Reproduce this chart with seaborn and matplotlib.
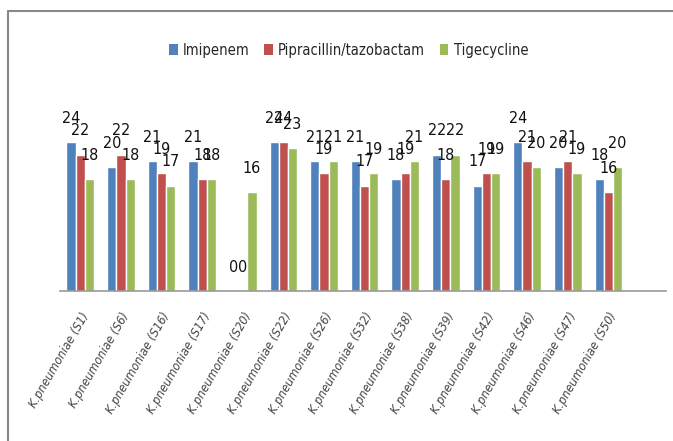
import matplotlib
matplotlib.use("Agg")
import matplotlib.pyplot as plt
import seaborn as sns
import pandas as pd
from matplotlib.lines import Line2D
from matplotlib.patches import Patch

isolates = ["S1", "S6", "S16", "S17", "S20", "S22", "S26", "S32",
            "S38", "S39", "S42", "S46", "S47", "S50"]
categories = [f"K.pneumoniae ({s})" for s in isolates]
antibiotics = ["Imipenem", "Pipracillin/tazobactam", "Tigecycline"]
imipenem = [24, 20, 21, 21, 0, 24, 21, 21, 18, 22, 17, 24, 20, 18]
piperacillin = [22, 22, 19, 18, 0, 24, 19, 17, 19, 18, 19, 21, 21, 16]
tigecycline = [18, 18, 17, 18, 16, 23, 21, 19, 21, 22, 19, 20, 19, 20]
colors = ["#4F81BD", "#C0504D", "#9BBB59"]

df = pd.DataFrame({
    "isolate": categories * 3,
    "antibiotic": sum([[a] * len(categories) for a in antibiotics], []),
    "value": imipenem + piperacillin + tigecycline,
})

sns.set_style("white")
plt.rcParams["font.family"] = ["DejaVu Sans"]

fig = plt.figure(figsize=(6.73, 4.41), dpi=100)
ax = fig.add_axes([60 / 673, 150 / 441, 606 / 673, 186 / 441])

sns.barplot(data=df, x="isolate", y="value", hue="antibiotic",
            palette=colors, width=0.68, ax=ax, legend=False,
            saturation=1, errorbar=None)

ax.set_ylim(0, 30)
ax.set_xlim(-0.5, 14.42)
ax.set_xlabel("")
ax.set_ylabel("")
ax.set_yticks([])
for side in ["top", "right", "left"]:
    ax.spines[side].set_visible(False)
ax.spines["bottom"].set_color("#999999")
ax.spines["bottom"].set_linewidth(1.2)
ax.tick_params(axis="x", length=0, pad=14)
ax.set_xticks(range(len(categories)))
ax.set_xticklabels(categories, rotation=60, ha="right",
                   rotation_mode="anchor", fontsize=9,
                   style="italic", color="#444444",
                   fontstretch="condensed")

for cont in ax.containers:
    for bar in cont:
        h = bar.get_height()
        ax.text(bar.get_x() + bar.get_width() / 2, h + 2.6, f"{h:g}",
                ha="center", va="bottom", fontsize=11.5,
                fontstretch="condensed", color="#111111")

handles = [Patch(facecolor=c, edgecolor="none") for c in colors]
fig.legend(handles, antibiotics, loc="center", bbox_to_anchor=(0.518, 1 - 50 / 441),
           ncol=3, frameon=False,
           prop={"size": 10.5, "stretch": "condensed"},
           handlelength=0.6, handleheight=0.8, handletextpad=0.35,
           columnspacing=1.0)

# frame along the top and left edges
fig.add_artist(Line2D([8 / 673, 8 / 673], [0, 1 - 11 / 441],
                      transform=fig.transFigure, color="#888888", lw=1.5))
fig.add_artist(Line2D([8 / 673, 1], [1 - 11 / 441, 1 - 11 / 441],
                      transform=fig.transFigure, color="#888888", lw=1.5))

fig.savefig("out.png", dpi=100, facecolor="white")
